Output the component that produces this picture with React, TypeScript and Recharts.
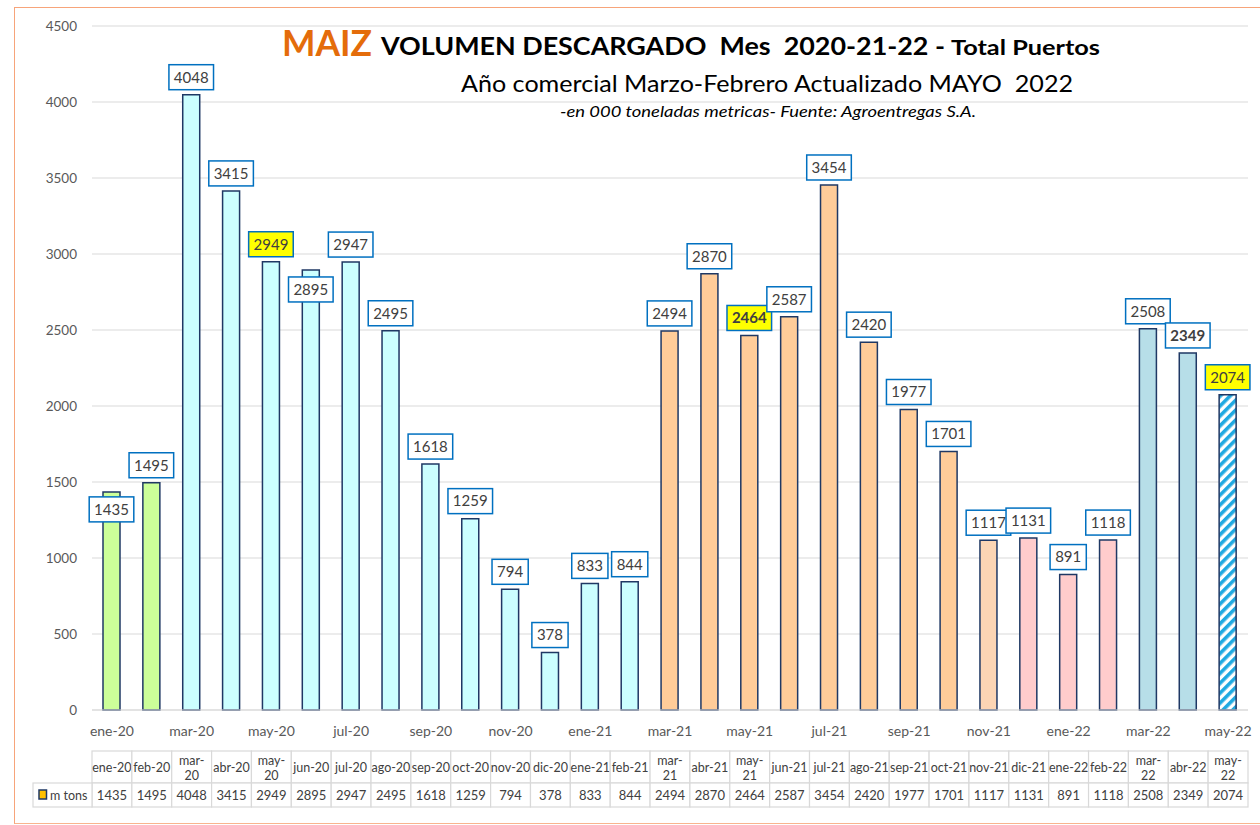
import { Bar, BarChart, CartesianGrid, Cell, LabelList, XAxis, YAxis } from "recharts";

// Volumen descargado de maíz por mes (miles de toneladas) — Total Puertos
const months = [
  "ene-20", "feb-20", "mar-20", "abr-20", "may-20", "jun-20", "jul-20", "ago-20",
  "sep-20", "oct-20", "nov-20", "dic-20", "ene-21", "feb-21", "mar-21", "abr-21",
  "may-21", "jun-21", "jul-21", "ago-21", "sep-21", "oct-21", "nov-21", "dic-21",
  "ene-22", "feb-22", "mar-22", "abr-22", "may-22",
];
const tons = [
  1435, 1495, 4048, 3415, 2949, 2895, 2947, 2495,
  1618, 1259, 794, 378, 833, 844, 2494, 2870,
  2464, 2587, 3454, 2420, 1977, 1701, 1117, 1131,
  891, 1118, 2508, 2349, 2074,
];
const yTicks = [0, 500, 1000, 1500, 2000, 2500, 3000, 3500, 4000, 4500];
const seriesName = "m tons";

const rows = months.map((mes, i) => ({ mes, tons: tons[i] }));

const W = 1260;
const H = 825;
const PLOT_LEFT = 92;
const RIGHT_MARGIN = 12;
const BAND = (W - PLOT_LEFT - RIGHT_MARGIN) / months.length;
const FONT = "Lato, 'Open Sans', sans-serif";
const TXT = "#404040";
const GRID = "#D9D9D9";

// colour per campaign (mar-feb)
function barFill(i: number): string {
  const m = months[i];
  if (m === "may-22") return "url(#rayado)";
  if (i < 2) return "#CCFF99";
  if (i < 14) return "#CCFFFF";
  if (i < 22) return "#FFCC99";
  if (i === 22) return "#FCD5B4";
  if (i < 26) return "#FFCCCC";
  return "#B7DEE8";
}

const yellowLabels = ["may-20", "may-21", "may-22"];
const boldLabels = ["may-21", "abr-22"];
// labels Excel moved down onto the bar
const labelDrop: Record<string, number> = { "ene-20": 35, "jun-20": 37 };

function ValueLabel(props: any) {
  const { x, y, width, value, index } = props;
  const m = months[index];
  const cx = x + width / 2;
  const cy = y - 17.5 + (labelDrop[m] ?? 0);
  const txt = String(value);
  const bw = txt.length * 8.4 + 11;
  const bh = 25;
  return (
    <g>
      <rect
        x={cx - bw / 2}
        y={cy - bh / 2}
        width={bw}
        height={bh}
        fill={yellowLabels.includes(m) ? "#FFFF00" : "#FFFFFF"}
        stroke="#0070C0"
        strokeWidth={1.5}
      />
      <text
        x={cx}
        y={cy + 5.3}
        textAnchor="middle"
        fontSize={15}
        fontFamily={FONT}
        fontWeight={boldLabels.includes(m) ? 700 : 400}
        fill={TXT}
      >
        {txt}
      </text>
    </g>
  );
}

function TableTick(props: any) {
  const { x, y, payload } = props;
  const m = String(payload.value);
  const i = months.indexOf(m);
  const left = x - BAND / 2;
  const headTop = y;
  const rowTop = y + 32;
  const rowBottom = y + 56;
  const split = m.startsWith("ma");
  return (
    <g fontFamily={FONT} fontSize={12.5} fill={TXT}>
      <rect x={left} y={headTop} width={BAND} height={32} fill="#fff" stroke={GRID} strokeWidth={1.2} />
      <rect x={left} y={rowTop} width={BAND} height={24} fill="#fff" stroke={GRID} strokeWidth={1.2} />
      {split ? (
        <>
          <text x={x} y={headTop + 14} textAnchor="middle">{m.slice(0, 4)}</text>
          <text x={x} y={headTop + 29} textAnchor="middle">{m.slice(4)}</text>
        </>
      ) : (
        <text x={x} y={headTop + 21} textAnchor="middle">{m}</text>
      )}
      <text x={x} y={rowBottom - 7} textAnchor="middle" fontSize={13}>{tons[i]}</text>
      {i === 0 && (
        <g>
          <rect x={33} y={rowTop} width={left - 33} height={24} fill="#fff" stroke={GRID} strokeWidth={1.2} />
          <rect x={39} y={rowTop + 7} width={7.5} height={9} fill="#FFC000" stroke="#1F3864" strokeWidth={1.5} />
          <text x={50} y={rowBottom - 7} fontSize={12.5}>{seriesName}</text>
        </g>
      )}
    </g>
  );
}

export default function App() {
  return (
    <div style={{ position: "absolute", left: 0, top: 0, width: W, height: H, background: "#fff", overflow: "hidden", fontFamily: FONT }}>
      <div
        style={{
          position: "absolute",
          left: 14,
          top: 7,
          width: W,
          height: 815,
          borderLeft: "1.5px solid #F7A47A",
          borderTop: "1.5px solid #F7A47A",
          borderBottom: "1.5px solid #F9B48E",
        }}
      />
      <svg width={0} height={0} style={{ position: "absolute" }}>
        <defs>
          <pattern id="rayado" patternUnits="userSpaceOnUse" width={7} height={7} patternTransform="rotate(45)">
            <rect width={7} height={7} fill="#FFFFFF" />
            <rect width={3.6} height={7} fill="#1FA9E1" />
          </pattern>
        </defs>
      </svg>
      <div style={{ position: "absolute", left: 0, top: 0 }}>
        <BarChart
          width={W}
          height={H}
          data={rows}
          margin={{ top: 26, right: RIGHT_MARGIN, bottom: 0, left: 0 }}
          barSize={17}
        >
          <CartesianGrid vertical={false} stroke={GRID} strokeWidth={1.2} />
          <YAxis
            width={PLOT_LEFT}
            domain={[0, 4500]}
            ticks={yTicks}
            axisLine={false}
            tickLine={false}
            tickMargin={9}
            tick={{ fontSize: 13.5, fill: "#595959", fontFamily: FONT }}
          />
          <XAxis
            dataKey="mes"
            height={41}
            interval={1}
            tickLine={false}
            tickSize={0}
            tickMargin={16}
            axisLine={{ stroke: GRID, strokeWidth: 1.2 }}
            tick={{ fontSize: 14, fill: "#595959", fontFamily: FONT }}
          />
          <XAxis
            xAxisId="tabla"
            dataKey="mes"
            height={74}
            interval={0}
            tickLine={false}
            tickSize={0}
            tickMargin={0}
            axisLine={false}
            tick={<TableTick />}
          />
          <Bar dataKey="tons" name={seriesName} stroke="#1F3864" strokeWidth={1.5} isAnimationActive={false}>
            {rows.map((r, i) => (
              <Cell key={r.mes} fill={barFill(i)} />
            ))}
            <LabelList dataKey="tons" content={<ValueLabel />} />
          </Bar>
        </BarChart>
      </div>
      <svg width={W} height={H} style={{ position: "absolute", left: 0, top: 0, pointerEvents: "none" }} fontFamily={FONT}>
        <text x={282} y={56} fontSize={37} fontWeight={700} fill="#E46C0A" textLength={90} lengthAdjust="spacingAndGlyphs">
          MAIZ
        </text>
        <text x={381} y={55} fontSize={25} fontWeight={700} fill="#000" textLength={564} lengthAdjust="spacingAndGlyphs" style={{ whiteSpace: "pre" }}>
          VOLUMEN DESCARGADO  Mes  2020-21-22 -
        </text>
        <text x={951} y={55} fontSize={21} fontWeight={700} fill="#000" textLength={149} lengthAdjust="spacingAndGlyphs">
          Total Puertos
        </text>
        <text x={461} y={92} fontSize={24} fill="#000" textLength={612} lengthAdjust="spacingAndGlyphs" style={{ whiteSpace: "pre" }}>
          Año comercial Marzo-Febrero Actualizado MAYO  2022
        </text>
        <text x={560} y={117} fontSize={14.5} fontStyle="italic" fill="#000" textLength={416} lengthAdjust="spacingAndGlyphs">
          -en 000 toneladas metricas- Fuente: Agroentregas S.A.
        </text>
      </svg>
    </div>
  );
}
